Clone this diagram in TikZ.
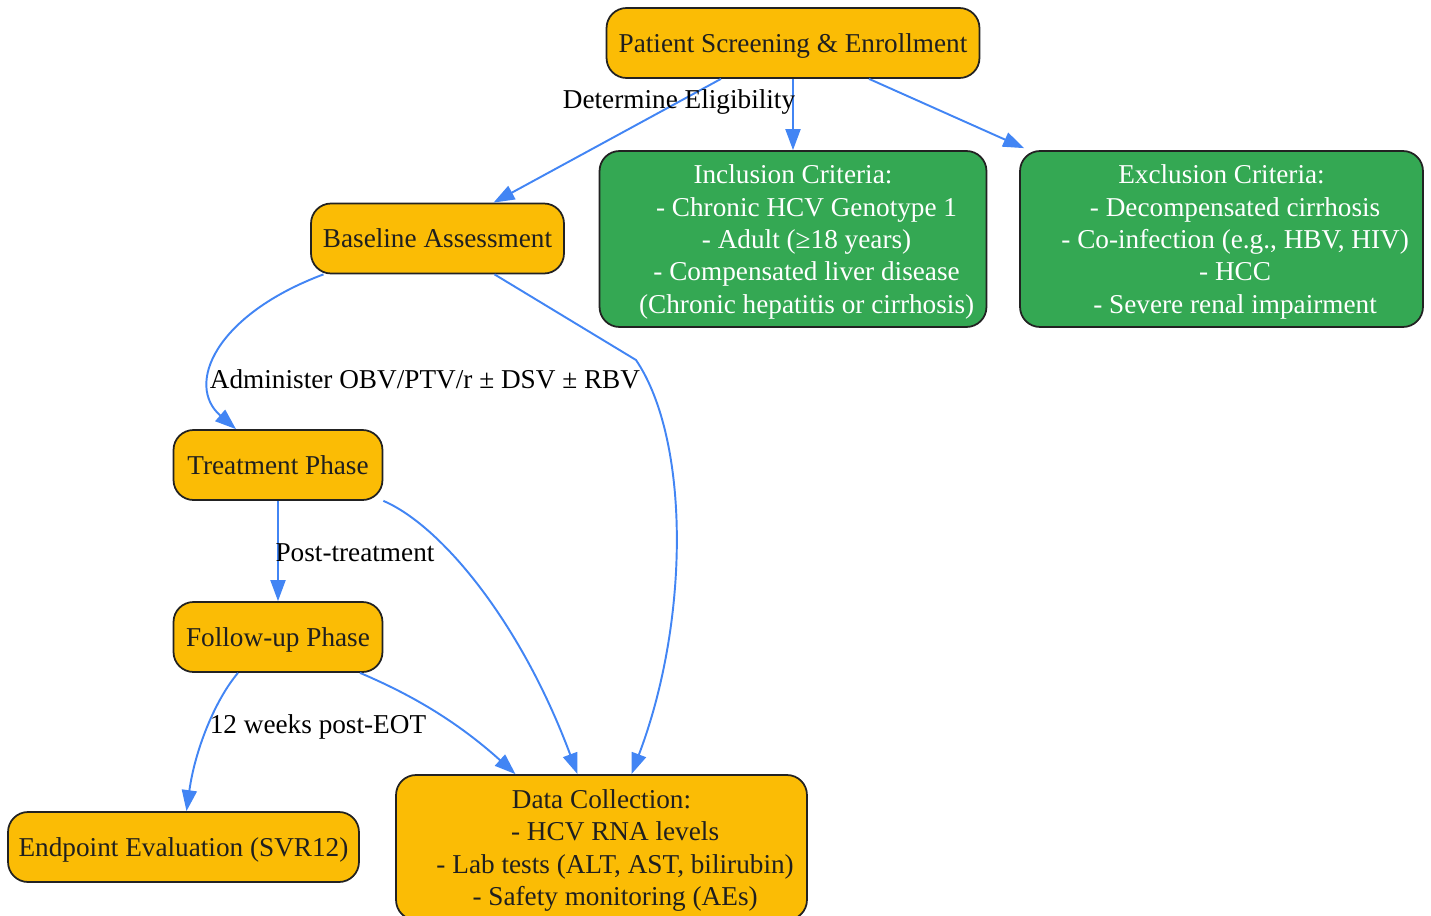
\documentclass[tikz,border=0pt]{standalone}
\usepackage{fontspec}
\setmainfont{Liberation Serif}
\usetikzlibrary{arrows.meta,calc}
\definecolor{phaseorange}{HTML}{FBBC05}
\definecolor{critgreen}{HTML}{34A853}
\definecolor{flowblue}{HTML}{4285F4}
\definecolor{boxline}{HTML}{222222}
\newcommand{\critpad}{\hspace*{1em}}
\tikzset{
  phase/.style={draw=boxline, line width=1pt, fill=phaseorange, rounded corners=0.4cm,
    text=black!88, align=center, minimum height=1.4cm, inner sep=0pt, text depth=0pt,
    font=\fontsize{15.5}{18.4}\selectfont},
  criteria/.style={phase, fill=critgreen, text=white},
  flow/.style={draw=flowblue, line width=1.1pt, -{Triangle[length=0.42cm,width=0.3cm]}},
  flowlabel/.style={font=\fontsize{15.5}{18.4}\selectfont, inner sep=0pt}
}
\begin{document}
\begin{tikzpicture}[x=0.02cm, y=-0.02cm] % study flow
        \useasboundingbox (0,0) rectangle (1431,916);
        % Phases
        \node[phase, minimum width=7.46cm] (screen) at (793,43) {Patient Screening \& Enrollment};
        \node[phase, minimum width=5.06cm] (base) at (437.5,238.5) {Baseline Assessment};
        \node[criteria, minimum width=7.74cm, minimum height=3.52cm] (incl) at (793,239)
          {Inclusion Criteria:\\\critpad- Chronic HCV Genotype 1\\\critpad- Adult (≥18 years)\\\critpad- Compensated liver disease\\\critpad(Chronic hepatitis or cirrhosis)};
        \node[criteria, minimum width=8.06cm, minimum height=3.52cm] (excl) at (1221.5,239)
          {Exclusion Criteria:\\\critpad- Decompensated cirrhosis\\\critpad- Co-infection (e.g., HBV, HIV)\\\critpad- HCC\\\critpad- Severe renal impairment};
        \node[phase, minimum width=4.18cm] (treat) at (278,465) {Treatment Phase};
        \node[phase, minimum width=4.18cm] (follow) at (278,637) {Follow-up Phase};
        \node[phase, minimum width=7.02cm] (endpoint) at (183.5,847) {Endpoint Evaluation (SVR12)};
        \node[phase, minimum width=8.22cm, minimum height=2.9cm] (data) at (601.5,847.5)
          {Data Collection:\\\critpad- HCV RNA levels\\\critpad- Lab tests (ALT, AST, bilirubin)\\\critpad- Safety monitoring (AEs)};
        % Connectors
        \draw[flow] ($(screen.south)+(-72,0)$) -- ($(base.north)+(56,0)$);
        \draw[flow] (screen.south) -- (incl.north);
        \draw[flow] ($(screen.south)+(76,0)$) -- ($(excl.north west)+(5,-2)$);
        \draw[flow] ($(base.south)+(-114,0)$) .. controls (215,315) and (185,385) .. ($(treat.north)+(-42,0)$);
        \draw[flow] ($(base.south)+(57,0)$) -- (636,360) .. controls (690,440) and (690,620) .. ($(data.north)+(30,0)$);
        \draw[flow] (treat.south) -- (follow.north);
        \draw[flow] (treat.south east) .. controls (440,525) and (520,620) .. ($(data.north)+(-24,0)$);
        \draw[flow] ($(follow.south)+(-40,0)$) .. controls (215,700) and (195,750) .. ($(endpoint.north)+(3,0)$);
        \draw[flow] ($(follow.south)+(82,0)$) .. controls (400,690) and (450,715) .. ($(data.north)+(-86,0)$);
        % Labels
        \node[flowlabel] (lbleligible) at (679,102) {Determine Eligibility};
        \node[flowlabel] (lbladminister) at (425,379) {Administer OBV/PTV/r ± DSV ± RBV};
        \node[flowlabel] (lblpost) at (355,553) {Post-treatment};
        \node[flowlabel] (lblweeks) at (318,727) {12 weeks post-EOT};
      \end{tikzpicture}
\end{document}
